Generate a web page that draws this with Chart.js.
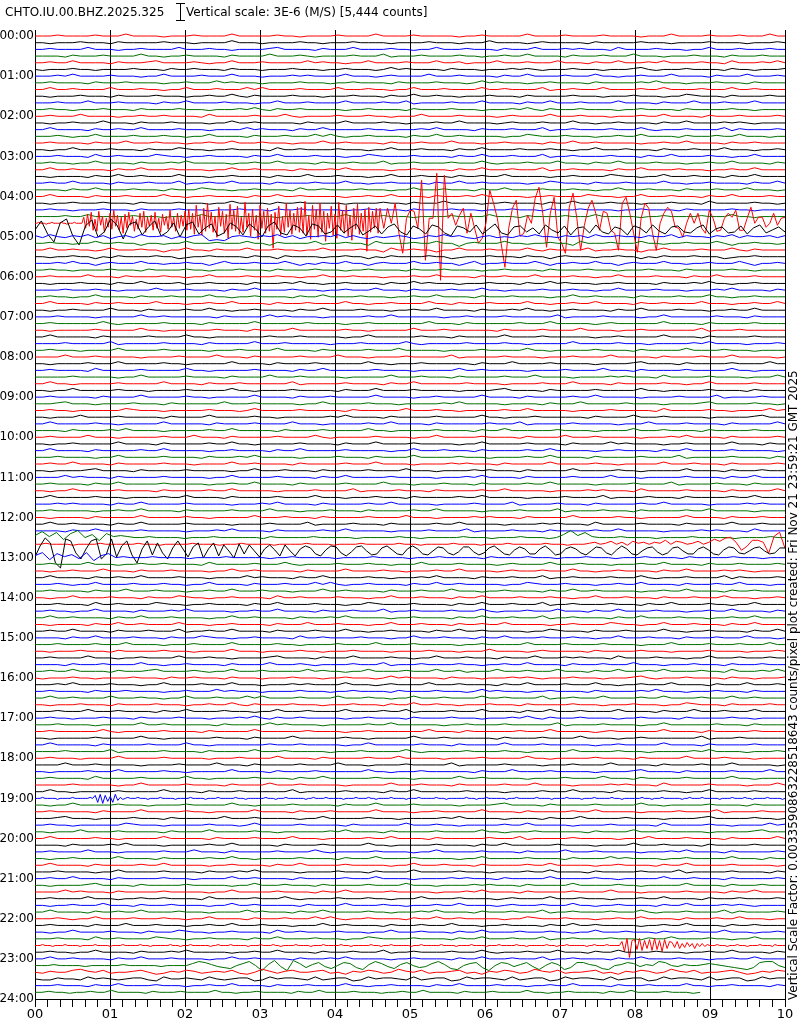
<!DOCTYPE html>
<html><head><meta charset="utf-8">
<script src="https://cdn.jsdelivr.net/npm/chart.js@4.4.0/dist/chart.umd.min.js"></script>
<style>html,body{margin:0;padding:0;background:#fff;}#wrap{width:800px;height:1024px;}</style>
</head><body><div id="wrap"><canvas id="c" width="800" height="1024"></canvas></div>
<script>
const stationLabel = 'CHTO.IU.00.BHZ.2025.325';
const scaleLabel = 'Vertical scale: 3E-6 (M/S) [5,444 counts]';
const sideLabel = 'Vertical Scale Factor: 0.0033590863228518643 counts/pixel plot created: Fri Nov 21 23:59:21 GMT 2025';
const hourLabels = ['00:00','01:00','02:00','03:00','04:00','05:00','06:00','07:00','08:00','09:00','10:00','11:00','12:00','13:00','14:00','15:00','16:00','17:00','18:00','19:00','20:00','21:00','22:00','23:00','24:00'];
const minuteLabels = ['00','01','02','03','04','05','06','07','08','09','10'];
const linesPerHour = 6;
const finalLineEnd = 8.87; // minutes of data in the last 10-minute line
// amplitude strings, one per 10-minute line: '5' = 0, digits -5..+4, a..z = +5.., A..Z = -6..
const lineTraces = [
// 00
"5556555565557555545556555575555565545555655557555565555545565555575555655556555545557555565556555755",
"5545556555465555565554555575554555565545556555545555655545557555545655555465555565554555565555455565",
"5565555755545565555755565545555675555465557555565545575556555465557555656555475555655545575556555655",
"5555465556555575545565555465555755565455556555745556555565545565575555465556555755545556555465556555",
"5565575555465556755556545575556555557565545575555655575564555755565557555465575556575555655475556575",
"5455565545555655546556555465554555655545565554575655554655545556565455565554555675455565555465545556",
// 01
"5556575555655545575555655575554555656555575554565555755565555465575555655575545565557555546555755565",
"5565555465556555545565557565554555565554556555546555565554575655545565555465555565755545556555465555",
"5575565555755565545575556555757555565555755565545575556555575565555745565557555565575555655575565555",
"5545556555465555655545565575465555655545556555465575565545556555465555565554555655545576555465555655",
"5556555755565555465575555655545575556555575555655745555655575555465575556555575555465557555655575555",
"5565545556555465555655545556575465565555545565555465555655545556575465556555545565555465555565545555",
// 02
"5565557555545565565555475555565557545555655565545557555565555456555575556555455565575555465556555565",
"5545565557555465556555545575565555546555575555655455565575555456555655575545565555465575555656545555",
"5575555465565575555655545555756555465575555565545556575555465556555745565555655575455565555746555565",
"5556545575555655565545575555465556555757545565555465575565555545576555655545565575555465556557555455",
"5565555465557555655545565575556555455575565555465556555755545565555465575565555545565575555465565555",
"5545575555655546555765545565555475565555655545575556555465575555655565545575556555465556555755545565",
// 03
"5556555475565555765545565555465575555655545576555565555465575556555745565555655546557555565545575555",
"5565545575555465556575555545565575555465556555745565555655575455565557555465575555655545565575555465",
"5575565555465575556555545575565555465556575555545565555465575556555745565555465575555655545565575555",
"5545555465575565555755545565555465557555655545575556555465565575555545565555765545575556555465575555",
"5565575555465556555745565575555465555655575545565555465575565555545576555465556555575545565555465575",
"5555465575555655546555765545565555475565555655545575556555465575555655565545575556555465556555755545",
// 04
"5575555465556555575545565555465575565555545565575555465556575555545565555765545575556555465575555655",
"5545565556555465555655545575555465565555545555655465557555545565555465575555655545556555475555565545",
"5565545556555465555655545556555465565555545565555465555655545556555465556555545565555465555565545555",
"5555655755555655545555755565555545556555575555655545555655557555465555655575555545565555655575545555",
"",
"",
// 05
"6475465746356475563546712156546574635565746435456534657564356454657554656475565546557465546574655646",
"5565545575565535545575556555755365555745565537555565575525655575545565537555655575545565557535565545",
"5575565545755565535575546555755565545575555655375565535575556555575465555745565535575555655575465555",
"5545565535465555655345565555465536555545565535465555655345556555465535655545565535465556555345565555",
"5556575535655575545565535755565557535465575535655575565535745565557535565575535655575545565557535565",
"5565545555655546555565545556555465555655545565555465556555545565555465555655545556555465555565545555",
// 06
"5565555755546555565545575555655565545575556555455565575555465565557555565545575555655546557555565555",
"5545556555465575555645565555465556575545565555465575655545556555465575655545565555465556575545565555",
"5555655565545555755565555465575555655545565557555465555655575545555655565545575555655545556575555465",
"5565545575555465556555575545565555465575555655545565575555465556555545575565555465555655575545565555",
"5575555465565555755545565575555465556555575545565555755465556555575545565575555465565555755545565575",
"5545565555755546555565575545565555465575555655545565575555465556575545565555465575555655545565575555",
// 07
"5556555545555575565555554655555756555545555565575555554556555565555557455556555545575555556555465555",
"5565555557545555565555465555575555556555545565555555755546555555655575555545655555575555465555565555",
"5545555565555575545555556555465555755555565545555575556555555465555655557555545565555555745556555555",
"5575555546555556555575545555555655565555545575555556555465555575555655555545565555575555465555565555",
"5555655555745555565555465555575556555554555655555754555556555565545555575555565554555556575555455565",
"5565554555575555565555545556555575555465555565557555554555565555575545555565555465555575555655545555",
// 08
"5555755565555545555655557555465555565555755545555655555745555565555455565555755555465555655575555545",
"5545555655575555565545555575555465555655555575545556555555465557555565555545555675555465555565555755",
"5565555475555565555575545555565555465575555556555545555575565555545555655557555465555565555575545555",
"5555565555545575555565555465555755565555545555575556555465555565557555545555656555475555565555455575",
"5575545555565555575555465556555555745555565555465575555556555545555655575555465555565545575555565555",
"5545575555565554555565555575545555655555465557555565555545555675555465555565555575545555565555465555",
// 09
"5565555546555575555565545555575555465556555557555545565555575555465555565575555545555655557455556555",
"5556755545555655546555555755565555545575555565554555556575555545555465557555556555545555675555565545",
"5565545555557655545555565554575555565555546555555755565545555565575555545555655555475555565545555756",
"5545557555565555546555575555565545555556575555465555565555575545556555555465555755565555545555567555",
"5575555565545555575555546555565555755545555565575555465555556555745555565555545557555565555465555575",
"5555465555657555545555565575555546555565555575545555565555465575555556555545555755565555465555565555",
// 10
"5565555755545555565557555465555565555754555556555545575555565555465555755565555545556575555465555565",
"5545565555575555465555565575545555565555465557555565555545575555565555465555756555545565555575554655",
"5575555465555565575555545565555465575555565555545575556555465555565575555545565555465575555565555545",
"5556555545575555565555465556575555545555655546555575555565554555565575555465555565555745555565555465",
"5565575555465555565554555575565555465555565557555545555656555465555575555565545555575556555465555565",
"5545555675555465555565555545575556555465555565555755545555656555465555575555565545555575555465556555",
// 11
"5555756555465555565555545575555565555465575555565555545556575555465555565555755545555565555465575555",
"5565555465575555565555545565575555465555565555755545556555465555565575555545555655557455556555465555",
"5545575555565555465555565575555545555655557455556555465555565575555545555656555475555565555465555575",
"5575555565554555565575555465555565555755545556555465555565575555545555655557455556555465555565575555",
"5556565555465575555565555545556575555465555565575555545555655557455556555465555565575555545555656555",
"5565555545565575555465555565555755545556555465555565575555545555655557455556555465555565575555545555",
// 12
"5545555465555575555565545555575556555465555565555755545555656555465555575555565545555575555465556555",
"5575565555465575555565555545555655557455556555465555565575555545555656555475555565555465555575556555",
"5555465575555565555545556575555465555565575555545555655557455556555465555565575555545555656555475555",
"7b6a39c58296765565555455565555554655555655555455555655455555655545556555458c7a6555655554555565555545555655",
"5565555455556555555655545555565555455565555545555565555455556555555655545555565555455556555555655545556756857486757695875685" + "7a8bc7A3997Ddh1",
"",
// 13
"7a39684a27956555655554555565555545565555545555655554555655555465555655545556555455565555465555565554555",
"5565555755545565565555475555565557545555655565545557555565555456555575556555455565575555465556555565",
"5545565557555465556555545575565555546555575555655455565575555456555655575545565555465575555656545555",
"5575555465565575555655545555756555465575555565545556575555465556555745565555655575455565555746555565",
"5556545575555655565545575555465556555757545565555465575565555545576555655545565575555465556557555455",
"5565555465557555655545565575556555455575565555465556555755545565555465575565555545565575555465565555",
// 14
"5545575555655546555765545565555475565555655545575556555465575555655565545575556555465556555755545565",
"5556555475565555765545565555465575555655545576555565555465575556555745565555655546557555565545575555",
"5565545575555465556575555545565575555465556555745565555655575455565557555465575555655545565575555465",
"5575565555465575556555545575565555465556575555545565555465575556555745565555465575555655545565575555",
"5545555465575565555755545565555465557555655545575556555465565575555545565555765545575556555465575555",
"5565575555465556555745565575555465555655575545565555465575565555545576555465556555575545565555465575",
// 15
"5555465575555655546555765545565555475565555655545575556555465575555655565545575556555465556555755545",
"5556555565557555545556555575555565545555655557555565555545565555575555655556555545557555565556555755",
"5545556555465555565554555575554555565545556555545555655545557555545655555465555565554555565555455565",
"5565555755545565555755565545555675555465557555565545575556555465557555656555475555655545575556555655",
"5555465556555575545565555465555755565455556555745556555565545565575555465556555755545556555465556555",
"5565575555465556755556545575556555557565545575555655575564555755565557555465575556575555655475556575",
// 16
"5455565545555655546556555465554555655545565554575655554655545556565455565554555675455565555465545556",
"5556575555655545575555655575554555656555575554565555755565555465575555655575545565557555546555755565",
"5565555465556555545565557565554555565554556555546555565554575655545565555465555565755545556555465555",
"5575565555755565545575556555757555565555755565545575556555575565555745565557555565575555655575565555",
"5545556555465555655545565575465555655545556555465575565545556555465555565554555655545576555465555655",
"5556555755565555465575555655545575556555575555655745555655575555465575556555575555465557555655575555",
// 17
"5565545556555465555655545556575465565555545565555465555655545556575465556555545565555465555565545555",
"5556555545555575565555554655555756555545555565575555554556555565555557455556555545575555556555465555",
"5565555557545555565555465555575555556555545565555555755546555555655575555545655555575555465555565555",
"5545555565555575545555556555465555755555565545555575556555555465555655557555545565555555745556555555",
"5575555546555556555575545555555655565555545575555556555465555575555655555545565555575555465555565555",
"5555655555745555565555465555575556555554555655555754555556555565545555575555565554555556575555455565",
// 18
"5565554555575555565555545556555575555465555565557555554555565555575545555565555465555575555655545555",
"5555755565555545555655557555465555565555755545555655555745555565555455565555755555465555655575555545",
"5545555655575555565545555575555465555655555575545556555555465557555565555545555675555465555565555755",
"5565555475555565555575545555565555465575555556555545555575565555545555655557555465555565555575545555",
"5555565555545575555565555465555755565555545555575556555465555565557555545555656555475555565555455575",
"5575545555565555575555465556555555745555565555465575555556555545555655575555465555565545575555565555",
// 19
"5556555554" + "5555565555" + "5565" + "8190827193" + "6456" +
"5556555455" + "5565555545" + "5555655555" + "4555565555" + "5565554555" + "5555655545" + "5565555555" + "4556555565" + "5555545555" + "6555565545" +
"5555655555" + "4555565555" + "5565554555" + "5555655545" + "5565555555" + "4555655555" + "5565555545" + "5555655555" + "4555565555" + "5565554555" +
"5555655545" + "5565555555" + "4556555565" + "5555545555" + "6555565545" + "5555655555" + "45",
"5545575555565554555565555575545555655555465557555565555545555675555465555565555575545555565555465555",
"5565555546555575555565545555575555465556555557555545565555575555465555565575555545555655557455556555",
"5556755545555655546555555755565555545575555565554555556575555545555465557555556555545555675555565545",
"5565545555557655545555565554575555565555546555555755565545555565575555545555655555475555565545555756",
"5545557555565555546555575555565545555556575555465555565555575545556555555465555755565555545555567555",
// 20
"5575555565545555575555546555565555755545555565575555465555556555745555565555545557555565555465555575",
"5555465555657555545555565575555546555565555575545555565555465575555556555545555755565555465555565555",
"5565555755545555565557555465555565555754555556555545575555565555465555755565555545556575555465555565",
"5545565555575555465555565575545555565555465557555565555545575555565555465555756555545565555575554655",
"5575555465555565575555545565555465575555565555545575556555465555565575555545565555465575555565555545",
"5556555545575555565555465556575555545555655546555575555565554555565575555465555565555745555565555465",
// 21
"5565575555465555565554555575565555465555565557555545555656555465555575555565545555575556555465555565",
"5545555675555465555565555545575556555465555565555755545555656555465555575555565545555575555465556555",
"5555756555465555565555545575555565555465575555565555545556575555465555565555755545555565555465575555",
"5565555755545565565555475555565557545555655565545557555565555456555575556555455565575555465556555565",
"5545565557555465556555545575565555546555575555655455565575555456555655575545565555465575555656545555",
"5575555465565575555655545555756555465575555565545556575555465556555745565555655575455565555746555565",
// 22
"5556545575555655565545575555465556555757545565555465575565555545576555655545565575555465556557555455",
"5565555465557555655545565575556555455575565555465556555755545565555465575565555545565575555465565555",
"5545575555655546555765545565555475565555655545575556555465575555655565545575556555465556555755545565",
"5556555475565555765545565555465575555655545576555565555465575556555745565555655546557555565545575555",
"5556555455" + "5565555545" + "5555655555" + "4555565555" + "5565554555" + "5555655545" + "5565555555" + "4556555565" + "5555545555" + "6555565545" +
"5555655555" + "4555565555" + "5565554555" + "5555655545" + "5565555555" + "4555655555" + "5565555545" + "5555655555" + "4555565555" + "5565554555" +
"5555655545" + "5565555555" + "4556555565" + "5555" +
"9AcGa" + "b1c0a2b0c1aAb29" + "8392738472747465" +
"5565554555" + "6555455556" + "5555465555",
"5565545575555465556575555545565575555465556555745565555655575455565557555465575555655545565575555465",
// 23
"5575565555465575556555545575565555465556575555545565555465575556555745565555465575555655545565575555",
"5556555545555565555545555" + "7986432579506a40a73" + "68425873169742685347" + "96215783058746841586" + "13886521568746598546" + "5567654321389953",
"5465578657455675346576456574358646755674536576458657455674536576458657455674536576458657455675346576",
"5446554756545664375565475456634756654745663475665474566347566547456634756654745663475665474566347566",
"5556555465575555655545565575555465556555575545565555465575555655545565575555465556555575545565555465",
"5565545565575555465556555575545565555465575555655545565575555465556555575545565555465575555655545"
];
// larger-amplitude lines (same units), sampled evenly between a start and end minute
const quake0440a = [0,0,1,0,0,0,-1,0,0,1,0,0,0,0,1,0,0,-1,0,0,0,1,0,0,0,0,
6,-5,9,-3,11,-7,4,-8,12,-2,7,-9,5,-4,10,-6,13,-3,8,-7,6,-10,9,-5,11,-2,7,-8,4,-6,10,-4,12,-9,6,-3,8,-7,11,-5,5,-9,9,-2,7,-6,13,-4,6,-8,10,-5,8,-3,12,-7,
14,-6,10,-11,18,-4,8,-12,15,-8,20,-5,11,-9,7,-14,16,-3,12,-10,9,-15,19,-6,13,-8,17,-11,6,-9,21,-4,10,-13,14,-7,8,-16,18,-5,12,-10,15,-8,9,-25,11,-6,17,-12,7,-9,20,-4,13,-11,10,-7,16,-9,
16,-10,22,-12,8,-16,18,-6,14,-14,20,-9,12,-18,10,-5,17,-12,9,-15,21,-7,13,-10,18,-13,8,-17,15,-6,19,-11,10,-8,14,-28,16,-9,12,-5,15,-10,15];
const quake0440b = [15,-5,15,0,20,-10,-30,5,13,12,-5,43,-37,5,5,50,-57,48,5,10,-2,8,15,-10,10,-5,-20,-15,0,33,20,5,-20,-44,-5,15,23,-13,-10,8,0,25,36,10,-24,10,26,-14,-20,-30,16,30,5,-27,-2,15,23,10,-7,12,10,-7,-10,-27,20,26,10,-10,-29,5,20,15,-10,-27,0,10,16,12,-4,-5,-14,0,10,0,10,-5,-10,13,5,-8,-7,5,10,6,13,-7,-7,5,16,0,6,6,-4,0,10,-2,5,6];
const quake0450 = [0,9,-4,-12,7,11,-6,-15,4,10,-7,-2,11,5,-9,6,
8,-5,3,9,-6,-2,7,-7,5,8,-4,2,6,-6,-3,7,3,-5,6,1,-7,4,8,-3,-5,5,2,-6,6,4,-4,-2,
5,-3,2,6,-5,-1,4,-4,3,6,-2,-5,4,1,-4,5,3,-3,-6,4,2,-2,5,-4,1,6,-3,-5,3,4,-2,2,-4,5,0,-3,4,-5,2,3,-3,5,-2,-4,3,1,-5,4,2,-3,5,-1,-4,3,4,-2,-3,2,5,-4,1,3,-3,-2,4,-4,2,5,-3,0,3,-2];
const quake1250 = [-6,5,13,8,-12,-17,12,10,-2,-8,2,10,12,-8,-3,12,-6,5,10,-4,-12,2,10,-4,8,-2,-8,3,10,2,-6,4,8,-7,2,8,-5,6,0,-7,7,-3,6,0,-6,2,6,1,-5,6,0,-5,2,
5,3,-3,-5,1,5,4,-2,-5,-1,4,5,0,-4,-3,3,5,1,-3,-4,2,5,2,-3,-4,0,4,3,-2,-4,-1,4,4,-1,-4,-2,3,5,1,-3,-4,1,4,2,-3,-3,2,5,1,-4,-3,2,4,2,-2,-4,0,4,3,-2,-4,1,5,2,-3,-4,0,3,4,-1,-4,-2,3,4,0,-3,-3,2,4,1,-3,-4,1,4,3,-2,-3,0,3,4,0,-3,-2,3,3];
const numericLineIndex = [28, 28, 29, 77];
const numericStartMin = [0, 4.6, 0, 0];
const numericEndMin = [4.6, 10, 10, 10];
const numericValues = [quake0440a, quake0440b, quake0450, quake1250];

const lineColors = ['#ff0000', '#000000', '#0000ff', '#006f00'];
const ampToHour = 1 / 40.1;

function decodeChar(ch) {
  const c = ch.charCodeAt(0);
  if (c >= 48 && c <= 57) return c - 53;
  if (c >= 97 && c <= 122) return 5 + (c - 97);
  if (c >= 65 && c <= 90) return -6 - (c - 65);
  return null;
}

function makeDataset(line, vals, startMin, endMin) {
  const dt = (endMin - startMin) / (vals.length - 1);
  const base = line / linesPerHour;
  return {
    data: vals.map((v, j) => ({ x: startMin + j * dt, y: base - v * ampToHour })),
    borderColor: lineColors[line % 4], borderWidth: 1, pointRadius: 0,
    tension: 0, fill: false, order: 200 - line
  };
}

const datasets = [];
lineTraces.forEach((s, i) => {
  if (!s.length) return;
  const end = (i === lineTraces.length - 1) ? finalLineEnd : 10;
  datasets.push(makeDataset(i, Array.from(s).map(decodeChar), 0, end));
});
numericLineIndex.forEach((line, k) => {
  datasets.push(makeDataset(line, numericValues[k], numericStartMin[k], numericEndMin[k]));
});

const textPlugin = {
  id: 'helicorderText',
  afterDraw(chart) {
    const ctx = chart.ctx;
    ctx.save();
    ctx.fillStyle = '#000';
    ctx.strokeStyle = '#000';
    ctx.lineWidth = 1;
    ctx.font = '12px "DejaVu Sans"';
    ctx.textBaseline = 'alphabetic';
    ctx.textAlign = 'left';
    ctx.fillText(stationLabel, 5, 16);
    ctx.beginPath();
    ctx.moveTo(180.5, 3); ctx.lineTo(180.5, 21);
    ctx.moveTo(176, 3.5); ctx.lineTo(185, 3.5);
    ctx.moveTo(176, 20.5); ctx.lineTo(185, 20.5);
    ctx.stroke();
    ctx.fillText(scaleLabel, 186, 16);
    ctx.translate(797, 1000);
    ctx.rotate(-Math.PI / 2);
    ctx.fillText(sideLabel, 0, 0);
    ctx.restore();
  }
};

new Chart(document.getElementById('c'), {
  type: 'line',
  data: { datasets },
  options: {
    responsive: false, animation: false, devicePixelRatio: 1, events: [],
    layout: { padding: { top: 30, right: 15, left: 0, bottom: 0 } },
    plugins: { legend: { display: false }, tooltip: { enabled: false }, title: { display: false } },
    scales: {
      x: {
        type: 'linear', min: 0, max: 10, position: 'bottom',
        afterBuildTicks: s => { const t = []; for (let k = 0; k <= 60; k++) t.push({ value: k / 6 }); s.ticks = t; },
        afterFit: s => { s.height = 25; },
        ticks: {
          autoSkip: false, maxRotation: 0, minRotation: 0, padding: 0, color: '#000',
          font: { family: 'DejaVu Sans', size: 13 },
          callback: (v, idx) => (idx % 6 === 0 ? minuteLabels[idx / 6] : '')
        },
        grid: {
          color: c => (c.index % 6 === 0 ? '#000' : 'rgba(0,0,0,0)'),
          tickColor: '#000', tickLength: 8, lineWidth: 1, drawTicks: true
        },
        border: { display: true, color: '#000', width: 1 }
      },
      y: {
        type: 'linear', min: -0.15, max: 24, reverse: true,
        afterBuildTicks: s => { s.ticks = hourLabels.map((_, h) => ({ value: h })); },
        afterFit: s => { s.width = 35; },
        ticks: {
          autoSkip: false, padding: 1, color: '#000',
          font: { family: 'DejaVu Sans', size: 12 },
          callback: (v, idx) => hourLabels[idx]
        },
        grid: { display: false, drawTicks: false },
        border: { display: true, color: '#000', width: 1 }
      }
    }
  },
  plugins: [textPlugin]
});
</script>
</body></html>
